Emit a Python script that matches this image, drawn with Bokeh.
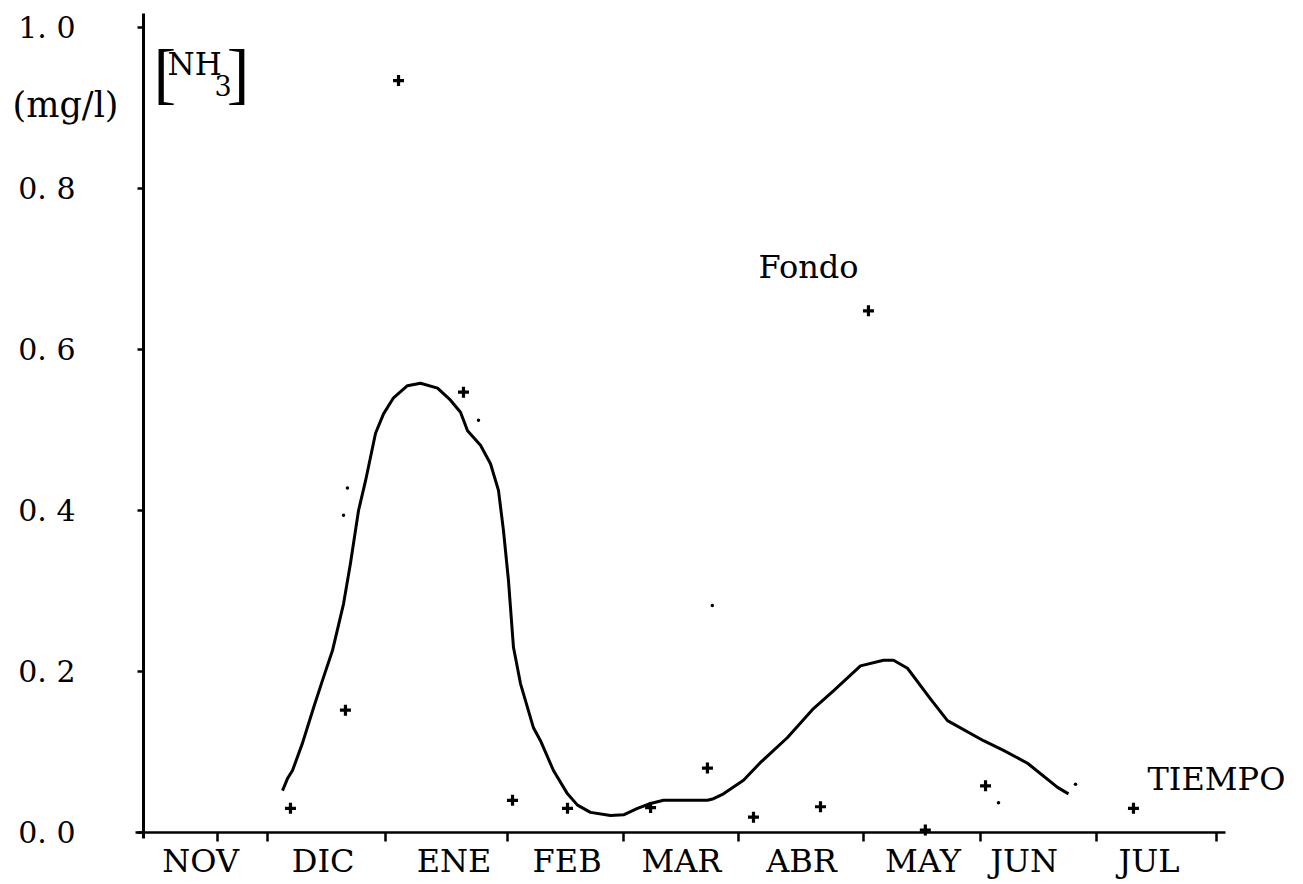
from bokeh.plotting import figure
from bokeh.models import FixedTicker, Label, Range1d
from bokeh.embed import file_html
from bokeh.resources import INLINE

# ---- data (x in months from the vertical axis, y in mg/l) ----
months = ["NOV", "DIC", "ENE", "FEB", "MAR", "ABR", "MAY", "JUN", "JUL"]
month_label_pos = [0.48, 1.51, 2.61, 3.56, 4.52, 5.53, 6.55, 7.40, 8.45]
month_tick_pos = [0.62, 1.04, 2.03, 3.06, 4.03, 5.00, 6.05, 7.03, 8.01, 9.02]

y_ticks = [0.0, 0.2, 0.4, 0.6, 0.8, 1.0]
y_tick_labels = ["0. 0", "0. 2", "0. 4", "0. 6", "0. 8", "1. 0"]

curve_x = [1.168, 1.210, 1.252, 1.336, 1.429, 1.504, 1.588, 1.681, 1.739, 1.807,
           1.866, 1.950, 2.017, 2.101, 2.218, 2.328, 2.471, 2.580, 2.664, 2.723,
           2.832, 2.916, 2.983, 3.025, 3.067, 3.109, 3.168, 3.277, 3.336, 3.445,
           3.563, 3.647, 3.756, 3.924, 4.034, 4.151, 4.261, 4.370, 4.597, 4.739,
           4.790, 4.874, 5.042, 5.185, 5.412, 5.630, 5.798, 6.025, 6.218, 6.303,
           6.420, 6.613, 6.756, 7.059, 7.227, 7.429, 7.681, 7.773]
curve_y = [0.052, 0.067, 0.077, 0.111, 0.155, 0.189, 0.226, 0.284, 0.334, 0.400,
           0.437, 0.496, 0.520, 0.540, 0.555, 0.558, 0.552, 0.537, 0.522, 0.499,
           0.481, 0.458, 0.425, 0.375, 0.313, 0.230, 0.185, 0.130, 0.114, 0.077,
           0.048, 0.034, 0.025, 0.021, 0.022, 0.030, 0.036, 0.040, 0.040, 0.040,
           0.042, 0.048, 0.065, 0.087, 0.118, 0.154, 0.176, 0.207, 0.214, 0.214,
           0.204, 0.166, 0.139, 0.114, 0.102, 0.086, 0.056, 0.048]

fondo_x = [1.235, 1.697, 2.143, 2.689, 3.101, 3.563, 4.261, 4.739, 5.126, 5.689,
           6.092, 6.570, 7.076, 8.319]
fondo_y = [0.030, 0.152, 0.934, 0.547, 0.040, 0.030, 0.031, 0.080, 0.019, 0.032,
           0.648, 0.003, 0.058, 0.030]

dots_x = [4.780, 7.185, 7.832, 2.815, 1.714, 1.681]
dots_y = [0.282, 0.037, 0.060, 0.512, 0.428, 0.394]

FONT = "DejaVu Serif"

# the frame covers the whole page; the axes are pinned at x=0 and y=0
p = figure(width=1303, height=884, output_backend="svg", toolbar_location=None,
           x_range=Range1d(-1.2017, 9.7479), y_range=Range1d(-0.0646, 1.0335),
           min_border=0)
p.xgrid.visible = False
p.ygrid.visible = False
p.outline_line_color = None
p.background_fill_color = "white"
p.border_fill_color = "white"

# x axis: labels at month centres (major), tick marks at boundaries (minor)
xa = p.xaxis[0]
xa.fixed_location = 0
xa.bounds = (-0.07, 9.09)
xa.ticker = FixedTicker(ticks=month_label_pos, minor_ticks=month_tick_pos)
xa.major_label_overrides = {v: m for v, m in zip(month_label_pos, months)}
xa.major_tick_out = 0
xa.major_tick_in = 0
xa.minor_tick_out = 9
xa.minor_tick_in = 0
xa.minor_tick_line_width = 2.5
xa.minor_tick_line_color = "black"
xa.axis_line_width = 2.5
xa.axis_line_color = "black"
xa.major_label_text_font = FONT
xa.major_label_text_font_size = "32px"
xa.major_label_text_color = "black"
xa.major_label_standoff = 1

ya = p.yaxis[0]
ya.fixed_location = 0
ya.bounds = (-0.008, 1.017)
ya.ticker = FixedTicker(ticks=y_ticks)
ya.major_label_overrides = {v: t for v, t in zip(y_ticks, y_tick_labels)}
ya.major_tick_out = 6
ya.major_tick_in = 0
ya.major_tick_line_width = 2.5
ya.major_tick_line_color = "black"
ya.minor_tick_line_color = None
ya.axis_line_width = 3
ya.axis_line_color = "black"
ya.major_label_text_font = FONT
ya.major_label_text_font_size = "30px"
ya.major_label_text_color = "black"
ya.major_label_standoff = 62

# curve
p.line(curve_x, curve_y, line_width=3, line_color="black", line_join="round")
# measured points
p.scatter(fondo_x, fondo_y, marker="cross", size=11, line_width=3.2, line_color="black")
p.scatter(dots_x, dots_y, marker="circle", size=3.5, fill_color="black", line_color=None)

# texts
def lab(x, y, text, size, font=FONT, align="left"):
    p.add_layout(Label(x=x, y=y, text=text, text_font=font, text_font_size=size,
                       text_color="black", text_align=align, text_baseline="middle"))

lab(-1.100, 0.904, "(mg/l)", "35px")
lab(0.084, 0.944, "[", "68px", font="Liberation Serif")
lab(0.202, 0.955, "NH", "31px")
lab(0.597, 0.928, "3", "27px")
lab(0.700, 0.944, "]", "68px", font="Liberation Serif")
lab(5.168, 0.703, "Fondo", "32px")
lab(8.437, 0.066, "TIEMPO", "32px")

open("out.html", "w").write(file_html(p, INLINE))
